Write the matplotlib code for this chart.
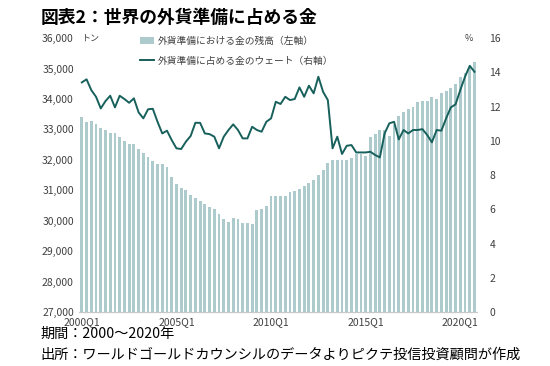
import matplotlib
matplotlib.use('Agg')
import matplotlib.pyplot as plt
from matplotlib.patches import Patch
from matplotlib.lines import Line2D

plt.rcParams['font.family'] = ['Noto Sans CJK JP', 'DejaVu Sans']

# quarterly data, 2000Q1 - 2020Q4
quarters = [f'{y}Q{q}' for y in range(2000, 2021) for q in range(1, 5)]

gold_tonnes = [
    33400, 33230, 33270, 33170, 33030, 32980, 32885, 32895, 32760, 32605, 32513, 32513,
    32370, 32240, 32100, 31970, 31855, 31850, 31750, 31450, 31197, 31060, 31000, 30835,
    30746, 30647, 30538, 30450, 30384, 30230, 30068, 29970, 30101, 30045, 29940, 29937,
    29903, 30341, 30368, 30483, 30805, 30812, 30812, 30795, 30943, 30966, 31030, 31150,
    31245, 31328, 31493, 31657, 31898, 32008, 31986, 31986, 32008, 32060, 32180, 32207,
    32130, 32765, 32850, 32973, 32973, 32776, 33138, 33434, 33577, 33654, 33720, 33906,
    33938, 33928, 34070, 33993, 34200, 34256, 34365, 34487, 34727, 34859, 35003, 35201,
]

gold_share = [
    13.41, 13.59, 12.96, 12.57, 11.89, 12.32, 12.63, 11.95, 12.63, 12.44, 12.22, 12.48,
    11.66, 11.31, 11.84, 11.87, 11.11, 10.43, 10.59, 10.04, 9.56, 9.52, 9.95, 10.28,
    11.05, 11.05, 10.43, 10.39, 10.24, 9.56, 10.24, 10.63, 10.96, 10.63, 10.14, 10.14,
    10.82, 10.63, 10.53, 11.11, 11.31, 12.28, 12.15, 12.57, 12.38, 12.44, 13.12, 12.57,
    13.22, 12.77, 13.74, 12.86, 12.38, 9.56, 10.24, 9.23, 9.71, 9.75, 9.32, 9.32,
    9.32, 9.36, 9.17, 9.03, 10.43, 11.02, 11.11, 10.08, 10.63, 10.43, 10.63, 10.63,
    10.68, 10.34, 9.91, 10.63, 10.59, 11.31, 11.95, 12.13, 12.96, 13.74, 14.38, 14.03,
]

bar_label = '外貨準備における金の残高（左軸）'
line_label = '外貨準備に占める金のウェート（右軸）'

bar_color = '#adcacd'
line_color = '#17605b'
text_color = '#404040'

fig = plt.figure(figsize=(5.5, 3.66), dpi=100)
ax = fig.add_axes([0.1445, 0.1475, 0.7225, 0.7485])
ax2 = ax.twinx()

x = list(range(len(quarters)))
ax.bar(x, gold_tonnes, width=0.6, color=bar_color, bottom=0)
ax2.plot(x, gold_share, color=line_color, linewidth=1.4)

ax.set_xlim(-0.5, len(quarters) - 0.5)
ax.set_ylim(27000, 36000)
ax.set_yticks(range(27000, 36001, 1000))
ax.set_yticklabels([f'{v:,}' for v in range(27000, 36001, 1000)])
ax2.set_ylim(0, 16)
ax2.set_yticks(range(0, 17, 2))

tick_idx = [0, 20, 40, 60, 80]
ax.set_xticks(tick_idx)
ax.set_xticklabels([quarters[i] for i in tick_idx])

for a in (ax, ax2):
    for s in ('top', 'left', 'right'):
        a.spines[s].set_visible(False)
    a.spines['bottom'].set_color('#c8c8c8')
    a.tick_params(length=0, labelsize=7.5, colors=text_color)
ax.tick_params(axis='x', pad=3.5)
ax.tick_params(axis='y', pad=4)
ax2.tick_params(axis='y', pad=9)

ax.text(0.005, 1.0, 'トン', transform=ax.transAxes, fontsize=6.5,
        color=text_color, va='center', ha='left')
ax2.text(0.99, 1.0, '%', transform=ax2.transAxes, fontsize=6.5,
         color=text_color, va='center', ha='right')

handles = [Patch(facecolor=bar_color, edgecolor='none'),
           Line2D([0], [0], color=line_color, linewidth=1.4)]
ax2.legend(handles, [bar_label, line_label], loc='upper left',
           bbox_to_anchor=(0.13, 1.04), frameon=False, fontsize=7,
           labelspacing=1.0, handlelength=1.5, handletextpad=0.3,
           labelcolor=text_color)

fig.text(0.073, 0.95, '図表2：世界の外貨準備に占める金', fontsize=12.8,
         fontweight='bold', va='center', ha='left')
fig.text(0.073, 0.088, '期間：2000～2020年', fontsize=10.2, va='center', ha='left')
fig.text(0.073, 0.03, '出所：ワールドゴールドカウンシルのデータよりピクテ投信投資顧問が作成',
         fontsize=10.2, va='center', ha='left')

fig.savefig('out.png', dpi=100)
